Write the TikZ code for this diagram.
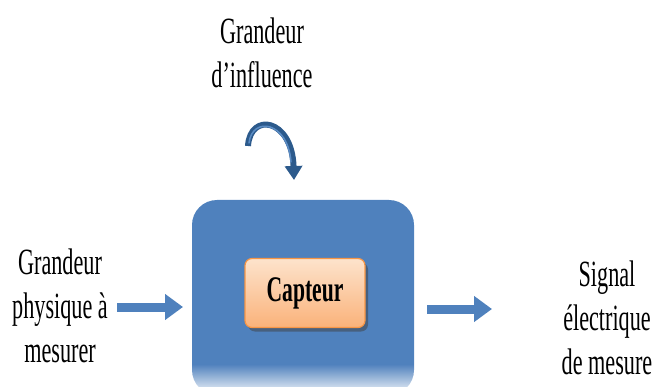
\documentclass[tikz,border=0pt]{standalone}
\usepackage{fontspec}
\setmainfont[FakeStretch=0.6]{Liberation Serif}
\usepackage{tikz}
\usetikzlibrary{arrows.meta,shadows,fadings}
\definecolor{bleu}{HTML}{4F81BD}
\definecolor{bleufonce}{HTML}{2C5A8C}
\definecolor{bleuclair}{HTML}{5B8CC4}
\definecolor{orange1}{HTML}{FDE3CC}
\definecolor{orange2}{HTML}{FAB27A}
\definecolor{orangebord}{HTML}{F79646}
\tikzset{
  texte/.style={align=center, font=\fontsize{37}{44}\selectfont},
  fleche/.style={draw=bleu, line width=9pt, -{Triangle[width=25pt,length=18pt]}}
}

\begin{document}
\begin{tikzpicture}[x=1pt,y=-1pt]
    \useasboundingbox (0,0) rectangle (655,387);
    % bloc principal
    \fill[bleu, rounded corners=25pt] (192,200) rectangle (414,395);
    \fill[white, path fading=north] (185,364) rectangle (420,396);
    \node[draw=orangebord, line width=1.2pt, rounded corners=7pt,
          top color=orange1, bottom color=orange2,
          drop shadow={shadow xshift=3pt, shadow yshift=-4pt, fill=black!75},
          minimum width=120pt, minimum height=69pt,
          font=\fontsize{36}{40}\selectfont\bfseries] (capteur) at (305,293) {Capteur};
    % textes
    \node[texte] (influence) at (262,53) {Grandeur\\d'influence};
    \node[texte] (entree) at (60,306) {Grandeur\\physique à\\mesurer};
    \node[texte] (sortie) at (607,318) {Signal\\électrique\\de mesure};
    % fleches
    \coordinate (e1) at (117,307);
    \coordinate (e2) at (183,307);
    \coordinate (s1) at (427,309);
    \coordinate (s2) at (492,309);
    \draw[fleche] (e1) -- (e2);
    \draw[fleche] (s1) -- (s2);
    \coordinate (c1) at (248,146);
    \coordinate (c2) at (294,180);
    \draw[bleufonce, line width=6pt, -{Triangle[width=17pt,length=14pt]}]
        (c1) .. controls (250,112) and (292,118) .. (c2);
    \draw[bleuclair, line width=1.5pt, line cap=round]
        (249,143) .. controls (252,116) and (288,121) .. (291,162);
\end{tikzpicture}
\end{document}
